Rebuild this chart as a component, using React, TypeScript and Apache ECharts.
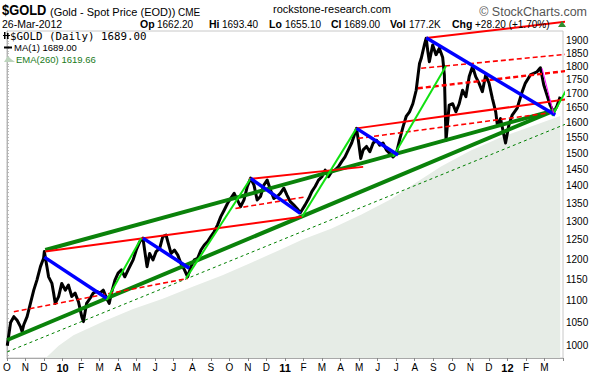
import React, { useEffect, useRef } from "react";
import * as echarts from "echarts";

const FONT = "'Liberation Sans', Arial, Helvetica, sans-serif";
const MONO = "'DejaVu Sans Mono', 'Liberation Mono', monospace";

// x axis: months since 1 Oct 2009
const monthLabels = ["O","N","D","10","F","M","A","M","J","J","A","S","O","N","D","11","F","M","A","M","J","J","A","S","O","N","D","12","F","M"];
const yTickLabels = [1000,1050,1100,1150,1200,1250,1300,1350,1400,1450,1500,1550,1600,1650,1700,1750,1800,1850,1900];

const priceMonth = [0.02,0.2,0.375,0.55,0.73,0.82,0.91,1.09,1.27,1.45,1.62,1.81,1.98,2.02,2.16,2.25,2.43,2.52,2.61,2.79,2.96,3.15,3.32,3.5,3.68,3.86,4.04,4.13,4.3,4.49,4.66,4.84,5.02,5.2,5.38,5.52,5.64,5.83,6.0,6.18,6.36,6.54,6.81,6.98,7.17,7.34,7.43,7.56,7.7,7.88,8.05,8.24,8.41,8.59,8.68,8.86,9.04,9.22,9.39,9.58,9.75,9.93,10.11,10.29,10.47,10.65,10.83,11.0,11.18,11.36,11.54,11.72,11.9,12.07,12.26,12.43,12.61,12.79,12.97,13.15,13.33,13.5,13.68,13.86,14.04,14.22,14.4,14.58,14.75,14.94,15.11,15.29,15.47,15.65,15.83,16.09,16.28,16.45,16.63,16.81,16.99,17.17,17.35,17.52,17.7,17.88,18.06,18.24,18.42,18.6,18.77,18.86,18.96,19.09,19.22,19.4,19.58,19.76,19.94,20.11,20.29,20.47,20.65,20.83,21.01,21.18,21.37,21.54,21.72,21.9,22.08,22.17,22.26,22.35,22.52,22.62,22.71,22.79,22.97,23.15,23.33,23.51,23.6,23.69,23.86,24.05,24.22,24.4,24.58,24.76,24.94,25.12,25.29,25.47,25.65,25.83,26.01,26.19,26.37,26.46,26.63,26.81,26.9,27.08,27.26,27.53,27.8,27.97,28.24,28.6,28.78,28.96,29.14,29.31,29.49,29.67,29.85];
const priceClose = [1000,1050,1063,1055,1041,1030,1045,1063,1093,1124,1148,1181,1202,1219,1181,1156,1140,1117,1093,1109,1140,1124,1136,1109,1117,1097,1063,1052,1093,1105,1117,1121,1117,1124,1105,1093,1117,1148,1165,1173,1156,1173,1198,1223,1245,1254,1223,1181,1214,1198,1219,1227,1258,1262,1245,1214,1223,1210,1189,1173,1156,1181,1198,1202,1223,1236,1245,1258,1271,1289,1312,1330,1349,1363,1378,1359,1340,1359,1398,1423,1402,1359,1369,1402,1417,1388,1363,1369,1378,1393,1373,1354,1345,1335,1323,1345,1363,1383,1398,1417,1427,1447,1427,1442,1447,1457,1473,1488,1510,1532,1563,1580,1541,1483,1510,1521,1504,1532,1541,1525,1532,1510,1499,1488,1499,1541,1585,1620,1636,1664,1712,1762,1811,1830,1883,1910,1857,1818,1883,1845,1870,1834,1768,1541,1659,1664,1636,1664,1712,1689,1762,1800,1762,1738,1707,1768,1738,1683,1636,1591,1613,1558,1532,1591,1625,1649,1707,1738,1768,1780,1795,1732,1694,1659,1634,1655,1689];

const emaMonth = [1.98,2.14,2.79,3.59,5.2,6.81,8.41,10.02,11.63,13.24,14.84,15.92,17.52,19.13,20.74,22.08,23.42,25.03,26.63,28.24,29.85];
const emaValue = [965,976,1000,1022,1052,1080,1104,1132,1160,1192,1226,1250,1280,1318,1362,1410,1458,1508,1550,1585,1622];

type Pt = [number, number];
type Seg = [Pt, Pt];
const greenThick: Seg[] = [[[0.02,1012],[29.58,1642]], [[2.07,1223],[29.58,1642]]];
const greenDashed: Seg[] = [[[0.02,987],[32.53,1656]]];
const redSolid: Seg[] = [[[2.07,1219],[15.92,1312]], [[13.06,1420],[19.22,1457]], [[18.86,1580],[32.53,1701]], [[22.62,1911],[32.53,1999]]];
const redDashed: Seg[] = [[[0.375,1074],[9.75,1152]], [[12.33,1335],[16.02,1367]], [[18.95,1547],[29.58,1635]], [[22.35,1793],[32.53,1863]]];
const redDashedBold: Seg[] = [[[22.17,1719],[32.53,1802]]];
const blueDown: Seg[] = [[[2.02,1205],[5.38,1105]], [[7.34,1254],[9.84,1177]], [[13.15,1422],[15.83,1321]], [[18.86,1580],[21.1,1494]], [[22.62,1912],[29.58,1625]]];
const limeUp: Seg[] = [[[5.38,1101],[7.25,1254]], [[9.66,1152],[13.15,1422]], [[15.92,1312],[18.86,1580]], [[20.83,1488],[23.69,1802]], [[29.42,1622],[32.64,2048]]];
const magenta: Seg[] = [[[28.87,1793],[29.49,1631]]];

function txt(x: number, y: number, text: string, extra: any = {}, props: any = {}) {
  const align = extra.align || "left";
  return {
    type: "text", x, y, z: 100, silent: true, ...props,
    style: {
      text, fill: "#000", fontFamily: FONT, fontSize: 11,
      align, textAlign: align, verticalAlign: "middle", textVerticalAlign: "middle",
      ...extra,
    },
  };
}

export default function App() {
  const ref = useRef<HTMLDivElement>(null);
  useEffect(() => {
    if (!ref.current) return;
    const chart = echarts.init(ref.current, null, { renderer: "svg" });
    const minorTicks: number[] = [];
    for (let v = 980; v <= 1930; v += 10) minorTicks.push(v);

    const segSeries = (segs: Seg[], color: string, width: number, type: any, z: number) =>
      segs.map((s) => ({
        type: "line", data: s, symbol: "none", clip: false, silent: true, z,
        lineStyle: { color, width, type },
      }));

    const row2: [number, string, boolean][] = [
      [140, "Op", true], [157, "1662.20", false], [209, "Hi", true], [222, "1693.40", false],
      [269, "Lo", true], [285, "1655.10", false], [331, "Cl", true], [344, "1689.00", false],
      [390, "Vol", true], [409, "177.2K", false], [452, "Chg", true], [475, "+28.20 (+1.70%)", false],
    ];

    const graphic: any[] = [
      txt(2, 10, "$GOLD", { fontSize: 15, fontWeight: "bold" }, { scaleX: 0.86 }),
      txt(50, 12, "(Gold - Spot Price (EOD))", { fontSize: 11 }),
      txt(178, 12.5, "CME", { fontSize: 10 }),
      txt(332, 9, "rockstone-research.com", { fontSize: 11, align: "center" }),
      txt(587, 12, "\u00a9 StockCharts.com", { fontSize: 12.5, fill: "#555", align: "right" }),
      txt(2, 24, "26-Mar-2012", { fontSize: 10.5 }),
      ...row2.map(([x, t, b]) => txt(x, 24, t, b ? { fontSize: 10.5, fontWeight: "bold" } : { fontSize: 10 })),
      { type: "polygon", z: 100, silent: true, shape: { points: [[558, 27], [562, 21], [566, 27]] }, style: { fill: "#2f8f2f" } },
      // legend
      { type: "rect", z: 100, silent: true, shape: { x: 4, y: 32, width: 1.5, height: 7 }, style: { fill: "#000" } },
      { type: "rect", z: 100, silent: true, shape: { x: 7, y: 33, width: 1.5, height: 6 }, style: { fill: "#000" } },
      { type: "rect", z: 100, silent: true, shape: { x: 3, y: 35, width: 7, height: 1 }, style: { fill: "#000" } },
      txt(10, 36, "$GOLD (Daily) 1689.00", { fontSize: 10.8, fontFamily: MONO }),
      { type: "line", z: 100, silent: true, shape: { x1: 4, y1: 47.5, x2: 12, y2: 47.5 }, style: { stroke: "#000", lineWidth: 2 } },
      txt(14, 47.5, "MA(1) 1689.00", { fontSize: 9.5 }),
      { type: "polygon", z: 100, silent: true, shape: { points: [[4, 62], [8, 56], [11, 59], [15, 62]] }, style: { fill: "#bcd4bc" } },
      txt(16, 59, "EMA(260) 1619.66", { fontSize: 9.5, fill: "#1a7a1a" }),
    ];

    chart.setOption({
      animation: false,
      backgroundColor: "#fff",
      textStyle: { fontFamily: FONT },
      grid: { left: 3, right: 47, top: 31, bottom: 18, show: true, borderColor: "#c8c8c8", borderWidth: 1, backgroundColor: "transparent" },
      xAxis: {
        type: "value", min: 0, max: 30, interval: 1,
        axisLine: { lineStyle: { color: "#a8a8a8" } },
        axisTick: { length: 3, lineStyle: { color: "#888" } },
        splitLine: { show: false },
        axisLabel: {
          fontSize: 10, color: "#000", margin: 4, fontFamily: FONT,
          formatter: (v: number) => {
            const s = monthLabels[Math.round(v)] ?? "";
            return /^\d/.test(s) ? `{b|${s}}` : s;
          },
          rich: { b: { fontWeight: "bold", fontSize: 11, fontFamily: FONT, color: "#000" } },
        },
      },
      yAxis: {
        type: "log", logBase: 10, min: 974.4, max: 1939.4, position: "right",
        axisLine: { show: true, lineStyle: { color: "#b4b4b4" } },
        axisTick: { show: true, customValues: minorTicks, length: 2, lineStyle: { color: "#b4b4b4" } },
        splitLine: { show: false },
        axisLabel: { customValues: yTickLabels, fontSize: 10, color: "#000", margin: 3, fontFamily: FONT, formatter: (v: number) => String(Math.round(v)) },
      },
      graphic,
      series: [
        {
          type: "line", data: emaMonth.map((m, i) => [m, emaValue[i]]), symbol: "none", z: 1, silent: true,
          lineStyle: { width: 0 }, areaStyle: { color: "#e6ece6", opacity: 1, origin: "start" },
        },
        {
          type: "line", data: priceMonth.map((m, i) => [m, priceClose[i]]), symbol: "none", z: 2, silent: true,
          lineStyle: { color: "#000", width: 3, join: "round" },
        },
        ...segSeries(greenDashed, "#008000", 1, [3, 3], 3),
        ...segSeries(greenThick, "#0a820a", 4, "solid", 3),
        ...segSeries(redDashed, "#ff0000", 1.6, [5, 3], 4),
        ...segSeries(redDashedBold, "#ff0000", 2.4, [5, 3], 4),
        ...segSeries(redSolid, "#ff0000", 2, "solid", 4),
        ...segSeries(limeUp, "#11e011", 2, "solid", 5),
        ...segSeries(blueDown, "#0000ff", 3.5, "solid", 5),
        ...segSeries(magenta, "#ff00ff", 1, "solid", 6),
      ],
    });
    return () => chart.dispose();
  }, []);
  return <div ref={ref} style={{ position: "fixed", left: 0, top: 0, width: 610, height: 376, background: "#fff" }} />;
}
